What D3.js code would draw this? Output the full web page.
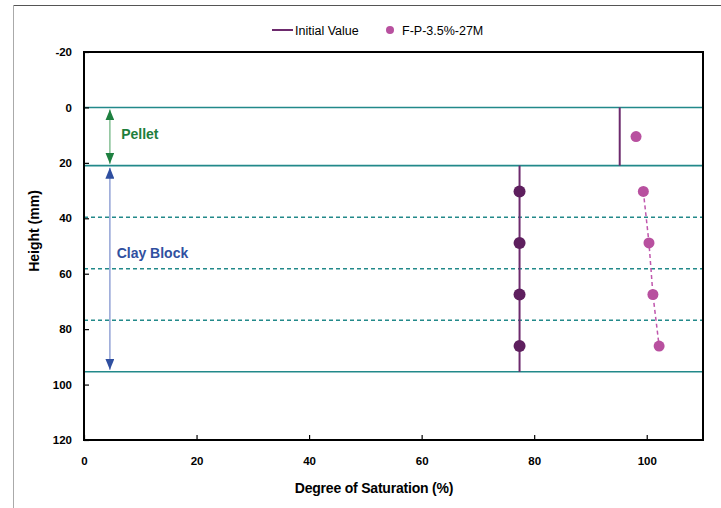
<!DOCTYPE html>
<html>
<head>
<meta charset="utf-8">
<script src="https://cdn.jsdelivr.net/npm/d3@7"></script>
<style>
  body { margin: 0; background: #fff; }
  svg { display: block; font-family: "Liberation Sans", Arial, sans-serif; }
</style>
</head>
<body>
<svg id="chart" width="721" height="508"></svg>
<script>
// Layer boundaries (mm): pellet 0–21, clay block split into four slices down to 95.4
const solidBounds = [0, 21, 95.4];
const dashedBounds = [39.6, 58.2, 76.8];

// Initial degree of saturation by layer (vertical segments)
const initialSegments = [
  { s: 95.2, top: 0, bottom: 21 },
  { s: 77.4, top: 21, bottom: 95.4 }
];
// Initial value markers at the clay slice mid-heights
const initialDepths = [30.3, 48.9, 67.5, 86.1];
const initialSat = [77.4, 77.4, 77.4, 77.4];

// F-P-3.5%-27M measurements
const pelletDepth = [10.5];
const pelletSat = [98.1];
const clayDepth = [30.3, 48.9, 67.5, 86.1];
const claySat = [99.4, 100.4, 101.1, 102.2];

const xTicks = [0, 20, 40, 60, 80, 100];
const yTicks = [-20, 0, 20, 40, 60, 80, 100, 120];

const svg = d3.select("#chart");
const plotL = 84, plotR = 703, plotT = 52, plotB = 440;

const x = d3.scaleLinear().domain([0, 110]).range([plotL, plotR]);
const y = d3.scaleLinear().domain([-20, 120]).range([plotT, plotB]);

// outer frame edges
svg.append("line").attr("x1", 13.5).attr("x2", 721).attr("y1", 5.5).attr("y2", 5.5)
  .attr("stroke", "#555").attr("stroke-width", 1);
svg.append("line").attr("x1", 13.5).attr("x2", 13.5).attr("y1", 5.5).attr("y2", 508)
  .attr("stroke", "#aaa").attr("stroke-width", 1);

// layer boundaries
const teal = "#22898a";
svg.append("g").selectAll("line").data(solidBounds).join("line")
  .attr("x1", plotL).attr("x2", plotR)
  .attr("y1", d => y(d)).attr("y2", d => y(d))
  .attr("stroke", teal).attr("stroke-width", 1.6);
svg.append("g").selectAll("line").data(dashedBounds).join("line")
  .attr("x1", plotL).attr("x2", plotR)
  .attr("y1", d => y(d)).attr("y2", d => y(d))
  .attr("stroke", teal).attr("stroke-width", 1.4)
  .attr("stroke-dasharray", "4,3");

// zone arrows
const defs = svg.append("defs");
function marker(id, color, orient) {
  defs.append("marker").attr("id", id)
    .attr("viewBox", "0 0 10 10").attr("refX", 10).attr("refY", 5)
    .attr("markerWidth", 11).attr("markerHeight", 9)
    .attr("markerUnits", "userSpaceOnUse")
    .attr("preserveAspectRatio", "none")
    .attr("orient", orient)
    .append("path").attr("d", "M0,0 L10,5 L0,10 Z").attr("fill", color);
}
marker("gEnd", "#1e8040", "auto");
marker("gStart", "#1e8040", "auto-start-reverse");
marker("bEnd", "#2f4fa0", "auto");
marker("bStart", "#2f4fa0", "auto-start-reverse");

const arrowX = 4.6;
svg.append("line")
  .attr("x1", x(arrowX)).attr("x2", x(arrowX))
  .attr("y1", y(solidBounds[0]) + 2).attr("y2", y(solidBounds[1]) - 2)
  .attr("stroke", "#86c095").attr("stroke-width", 1.5)
  .attr("marker-start", "url(#gStart)").attr("marker-end", "url(#gEnd)");
svg.append("line")
  .attr("x1", x(arrowX)).attr("x2", x(arrowX))
  .attr("y1", y(solidBounds[1]) + 2).attr("y2", y(solidBounds[2]) - 2)
  .attr("stroke", "#93a3d6").attr("stroke-width", 1.5)
  .attr("marker-start", "url(#bStart)").attr("marker-end", "url(#bEnd)");

svg.append("text").attr("x", x(6.6)).attr("y", y(10.5) + 2)
  .attr("font-size", 14).attr("font-weight", "bold").attr("fill", "#1e7e3c")
  .text("Pellet");
svg.append("text").attr("x", x(5.8)).attr("y", y(48.9) + 15)
  .attr("font-size", 14).attr("font-weight", "bold").attr("fill", "#3050a0")
  .text("Clay Block");

// initial value profile
const purple = "#6d2a6d";
svg.append("g").selectAll("line").data(initialSegments).join("line")
  .attr("x1", d => x(d.s)).attr("x2", d => x(d.s))
  .attr("y1", d => y(d.top)).attr("y2", d => y(d.bottom))
  .attr("stroke", purple).attr("stroke-width", 2);
svg.append("g").selectAll("circle").data(initialDepths).join("circle")
  .attr("cx", (d, i) => x(initialSat[i])).attr("cy", d => y(d))
  .attr("r", 6).attr("fill", "#5e1f5e");

// measured profile
const pink = "#b8509f";
const line = d3.line().x(d => x(d[0])).y(d => y(d[1]));
svg.append("path")
  .attr("d", line(clayDepth.map((d, i) => [claySat[i], d])))
  .attr("fill", "none").attr("stroke", "#c057ad").attr("stroke-width", 1.5)
  .attr("stroke-dasharray", "4,3");
svg.append("g").selectAll("circle").data(clayDepth).join("circle")
  .attr("cx", (d, i) => x(claySat[i])).attr("cy", d => y(d))
  .attr("r", 5.5).attr("fill", pink);
svg.append("g").selectAll("circle").data(pelletDepth).join("circle")
  .attr("cx", (d, i) => x(pelletSat[i])).attr("cy", d => y(d))
  .attr("r", 5.5).attr("fill", pink);

// axes (plain hyphen for negatives)
const fmt = d => String(d);
const xAxis = d3.axisBottom(x).tickValues(xTicks).tickFormat(fmt)
  .tickSizeInner(-5).tickSizeOuter(0).tickPadding(17);
const yAxis = d3.axisLeft(y).tickValues(yTicks).tickFormat(fmt)
  .tickSizeInner(-5).tickSizeOuter(0).tickPadding(12);
const gx = svg.append("g").attr("transform", `translate(0,${plotB})`).call(xAxis);
const gy = svg.append("g").attr("transform", `translate(${plotL},0)`).call(yAxis);
[gx, gy].forEach(g => {
  g.select(".domain").remove();
  g.selectAll(".tick line").attr("stroke", "#000").attr("stroke-width", 1.2);
  g.selectAll("text").attr("font-size", 11.5).attr("font-weight", "bold")
    .attr("fill", "#000").attr("font-family", "'Liberation Sans', Arial, sans-serif");
});

// plot frame
svg.append("rect").attr("x", plotL).attr("y", plotT)
  .attr("width", plotR - plotL).attr("height", plotB - plotT)
  .attr("fill", "none").attr("stroke", "#000").attr("stroke-width", 2);

// axis titles
svg.append("text").attr("x", 374).attr("y", 493)
  .attr("text-anchor", "middle").attr("font-size", 14).attr("font-weight", "bold")
  .attr("letter-spacing", "-0.2")
  .text("Degree of Saturation (%)");
svg.append("text")
  .attr("transform", "translate(39,231) rotate(-90)")
  .attr("text-anchor", "middle").attr("font-size", 14).attr("font-weight", "bold")
  .text("Height (mm)");

// legend
const lg = svg.append("g");
lg.append("line").attr("x1", 272).attr("x2", 293).attr("y1", 30).attr("y2", 30)
  .attr("stroke", purple).attr("stroke-width", 2);
lg.append("text").attr("x", 295).attr("y", 34.5).attr("font-size", 12.5)
  .text("Initial Value");
lg.append("circle").attr("cx", 390).attr("cy", 30).attr("r", 4).attr("fill", pink);
lg.append("text").attr("x", 402).attr("y", 34.5).attr("font-size", 12.5)
  .text("F-P-3.5%-27M");
</script>
</body>
</html>
